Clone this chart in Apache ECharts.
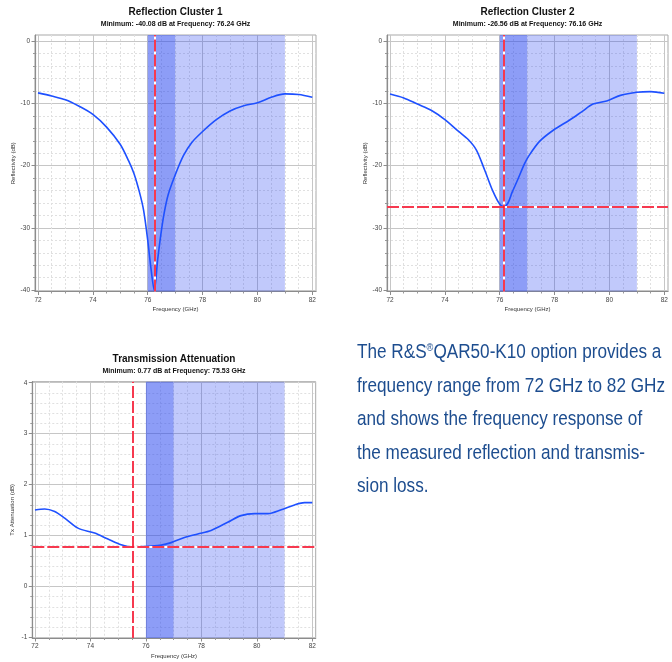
<!DOCTYPE html>
<html><head><meta charset="utf-8">
<script src="https://cdn.jsdelivr.net/npm/echarts@6/dist/echarts.min.js"></script>
<style>html,body{margin:0;padding:0;background:#fff}#c{width:672px;height:662px}</style>
</head><body><div id="c"></div>
<script>
// ---------------- data ----------------
const freq1 = [72.0, 72.5, 73.0, 73.5, 74.0, 74.5, 75.0, 75.3, 75.5, 75.7, 75.85, 76.0, 76.12, 76.24, 76.36, 76.48, 76.6, 76.75, 77.0, 77.3, 77.6, 78.0, 78.5, 79.0, 79.5, 80.0, 80.5, 81.0, 81.5, 82.0];
const refl1 = [-8.3, -8.8, -9.4, -10.45, -11.75, -13.8, -16.6, -19.2, -21.3, -24.3, -27.2, -32.0, -36.6, -40.08, -35.2, -31.0, -27.6, -24.6, -21.5, -18.4, -16.3, -14.5, -12.6, -11.2, -10.35, -9.9, -9.0, -8.45, -8.55, -9.0];

const freq2 = [72.0, 72.5, 73.0, 73.5, 74.0, 74.5, 74.85, 75.15, 75.45, 75.75, 76.0, 76.16, 76.3, 76.45, 76.65, 76.9, 77.05, 77.45, 77.95, 78.55, 79.0, 79.4, 79.9, 80.4, 81.0, 81.5, 82.0];
const refl2 = [-8.47, -9.1, -10.1, -11.1, -12.6, -14.5, -15.8, -17.5, -20.7, -24.1, -26.2, -26.56, -26.0, -24.3, -22.3, -19.7, -18.5, -16.1, -14.3, -12.65, -11.3, -10.1, -9.6, -8.7, -8.2, -8.1, -8.36];

const freq3 = [72.0, 72.35, 72.71, 73.07, 73.55, 74.15, 74.63, 75.11, 75.53, 76.07, 76.55, 76.91, 77.39, 77.87, 78.35, 78.95, 79.43, 79.92, 80.4, 80.88, 81.36, 81.72, 82.0];
const att3 = [1.5, 1.52, 1.47, 1.34, 1.145, 1.047, 0.93, 0.817, 0.77, 0.79, 0.81, 0.86, 0.96, 1.03, 1.1, 1.26, 1.39, 1.43, 1.43, 1.505, 1.6, 1.645, 1.645];

const xMajorTicks = [72, 74, 76, 78, 80, 82];
const xMinorTicks = [72.5, 73, 73.5, 74.5, 75, 75.5, 76.5, 77, 77.5, 78.5, 79, 79.5, 80.5, 81, 81.5];
const reflMajorTicks = [-40, -30, -20, -10, 0];
const reflMinorTicks = [-38, -36, -34, -32, -28, -26, -24, -22, -18, -16, -14, -12, -8, -6, -4, -2];
const attMajorTicks = [-1, 0, 1, 2, 3, 4];
const attMinorTicks = [-0.8, -0.6, -0.4, -0.2, 0.2, 0.4, 0.6, 0.8, 1.2, 1.4, 1.6, 1.8, 2.2, 2.4, 2.6, 2.8, 3.2, 3.4, 3.6, 3.8];

const bandDark = [76, 77];
const bandLight = [77, 81];

const min1 = { freq: 76.24, value: -40.08 };
const min2 = { freq: 76.16, value: -26.56 };
const min3 = { freq: 75.53, value: 0.77 };

const titles = ['Reflection Cluster 1', 'Reflection Cluster 2', 'Transmission Attenuation'];
const subtitles = [
  'Minimum: -40.08 dB at Frequency: 76.24 GHz',
  'Minimum: -26.56 dB at Frequency: 76.16 GHz',
  'Minimum: 0.77 dB at Frequency: 75.53 GHz'
];
const yNames = ['Reflectivity (dB)', 'Reflectivity (dB)', 'Tx Attenuation (dB)'];
const xName = 'Frequency (GHz)';

const paragraph = [
  ['The R&S', '®', 'QAR50-K10 option provides a'],
  ['frequency range from 72 GHz to 82 GHz'],
  ['and shows the frequency response of'],
  ['the measured reflection and transmis-'],
  ['sion loss.']
];

// ---------------- layout ----------------
const FONT = "'Liberation Sans', Arial, sans-serif";
const panels = [
  { left: 35, top: 35, width: 281, height: 256.5, xMin: 71.89, xMax: 82.134, yMin: -40.23, yMax: 1.01,
    major: reflMajorTicks, minor: reflMinorTicks, fx: freq1, fy: refl1, mk: min1, hLine: false },
  { left: 387, top: 35, width: 281, height: 256.5, xMin: 71.89, xMax: 82.134, yMin: -40.23, yMax: 1.01,
    major: reflMajorTicks, minor: reflMinorTicks, fx: freq2, fy: refl2, mk: min2, hLine: true },
  { left: 32.3, top: 381.7, width: 283.4, height: 256.3, xMin: 71.903, xMax: 82.123, yMin: -1.013, yMax: 4.02,
    major: attMajorTicks, minor: attMinorTicks, fx: freq3, fy: att3, mk: min3, hLine: true }
];

const grid = [], xAxis = [], yAxis = [], series = [], graphic = [];
const RED = 'rgba(245,25,50,0.86)';

panels.forEach((p, i) => {
  grid.push({ left: p.left, top: p.top, width: p.width, height: p.height, show: true,
    borderColor: '#a9a9a9', borderWidth: 1, backgroundColor: '#fff', containLabel: false });
  xAxis.push({ gridIndex: i, type: 'value', min: p.xMin, max: p.xMax, position: 'bottom',
    name: xName, nameLocation: 'middle', nameGap: 15,
    nameTextStyle: { fontSize: 6, color: '#333', fontFamily: FONT },
    axisLine: { show: true, onZero: false, lineStyle: { color: '#8c8c8c', width: 1.2 } },
    axisTick: { show: true, customValues: xMajorTicks, length: 3.5, lineStyle: { color: '#8c8c8c' } },
    axisLabel: { customValues: xMajorTicks, fontSize: 6.5, color: '#444', margin: 5, fontFamily: FONT },
    splitLine: { show: true, lineStyle: { color: '#c6c6c6', width: 1 } } });
  xAxis.push({ gridIndex: i, type: 'value', min: p.xMin, max: p.xMax, position: 'bottom',
    axisLine: { show: false, onZero: false },
    axisTick: { show: true, customValues: xMinorTicks, length: 2, lineStyle: { color: '#999' } },
    axisLabel: { show: false },
    splitLine: { show: true, lineStyle: { color: '#e0e0e0', width: 1, type: [2, 2] } } });
  yAxis.push({ gridIndex: i, type: 'value', min: p.yMin, max: p.yMax, position: 'left',
    name: yNames[i], nameLocation: 'middle', nameGap: 17, nameRotate: 90,
    nameTextStyle: { fontSize: 6, color: '#333', fontFamily: FONT },
    axisLine: { show: true, onZero: false, lineStyle: { color: '#8c8c8c', width: 1.2 } },
    axisTick: { show: true, customValues: p.major, length: 3.5, lineStyle: { color: '#8c8c8c' } },
    axisLabel: { customValues: p.major, fontSize: 6.5, color: '#444', margin: 5, fontFamily: FONT },
    splitLine: { show: true, lineStyle: { color: '#c6c6c6', width: 1 } } });
  yAxis.push({ gridIndex: i, type: 'value', min: p.yMin, max: p.yMax, position: 'left',
    axisLine: { show: false, onZero: false },
    axisTick: { show: true, customValues: p.minor, length: 2, lineStyle: { color: '#999' } },
    axisLabel: { show: false },
    splitLine: { show: true, lineStyle: { color: '#e0e0e0', width: 1, type: [2, 2] } } });

  const mlData = [
    { xAxis: p.mk.freq, lineStyle: { color: '#fff', type: 'solid', width: 2 } },
    { xAxis: p.mk.freq, lineStyle: { color: RED, type: [12, 3], width: 2 } }
  ];
  if (p.hLine) {
    mlData.splice(1, 0, { yAxis: p.mk.value, lineStyle: { color: '#fff', type: 'solid', width: 2 } });
    mlData.push({ yAxis: p.mk.value, lineStyle: { color: RED, type: [12, 3], width: 2 } });
  }

  series.push({
    type: 'line', xAxisIndex: 2 * i, yAxisIndex: 2 * i,
    data: p.fx.map((f, k) => [f, p.fy[k]]),
    showSymbol: false, smooth: 0.3, silent: true,
    lineStyle: { color: '#1e50ff', width: 1.6 },
    emphasis: { disabled: true },
    markArea: { silent: true, data: [
      [{ xAxis: bandDark[0], itemStyle: { color: 'rgba(40,70,240,0.53)' } }, { xAxis: bandDark[1] }],
      [{ xAxis: bandLight[0], itemStyle: { color: 'rgba(40,70,240,0.29)' } }, { xAxis: bandLight[1] }]
    ] },
    markLine: { silent: true, symbol: ['none', 'none'], label: { show: false }, animation: false, data: mlData }
  });

  const cx = p.left + p.width / 2;
  const ty = i < 2 ? 12.3 : 359.3;
  graphic.push({ type: 'text', x: cx, y: ty, style: { text: titles[i],
    align: 'center', verticalAlign: 'middle', font: "bold 10px " + FONT, fill: '#111' } });
  graphic.push({ type: 'text', x: cx, y: ty + 11.5, style: { text: subtitles[i],
    align: 'center', verticalAlign: 'middle', font: "bold 7px " + FONT, fill: '#111' } });
});

// paragraph (condensed look: horizontal scale fitted so the 2nd line spans ~308px)
const PFONT = "'Liberation Sans', Arial, sans-serif";
const PSIZE = 20.5;
const mctx = document.createElement('canvas').getContext('2d');
mctx.font = PSIZE + "px " + PFONT;
const pScale = 308 / mctx.measureText(paragraph[1][0]).width;
const baselines = [360, 393.5, 427, 460.5, 493.5];
paragraph.forEach((parts, li) => {
  const text = parts.length === 3
    ? '{a|' + parts[0] + '}{s|' + parts[1] + '}{a|' + parts[2] + '}'
    : '{a|' + parts[0] + '}';
  graphic.push({ type: 'text', x: 357, y: baselines[li] - 7.5, scaleX: pScale, style: {
    text: text, align: 'left', verticalAlign: 'middle',
    rich: {
      a: { fontSize: PSIZE, fontFamily: PFONT, fill: '#1d4d8f', color: '#1d4d8f' },
      s: { fontSize: 11, fontFamily: PFONT, fill: '#1d4d8f', color: '#1d4d8f', verticalAlign: 'top', padding: [0, 0, 8, 0] }
    } } });
});

const chart = echarts.init(document.getElementById('c'), null, { renderer: 'canvas' });
chart.setOption({ animation: false, grid, xAxis, yAxis, series, graphic });
</script></body></html>
